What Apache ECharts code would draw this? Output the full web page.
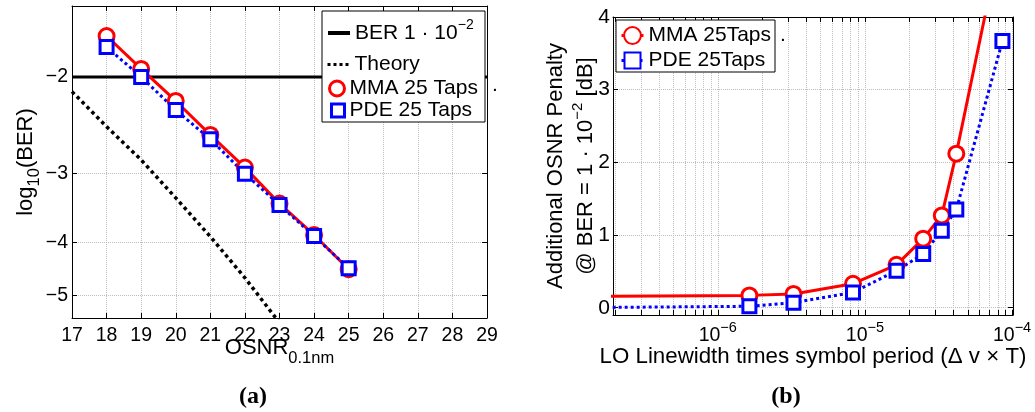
<!DOCTYPE html>
<html>
<head>
<meta charset="utf-8">
<script src="https://cdn.jsdelivr.net/npm/echarts@6/dist/echarts.min.js"></script>
<style>
  html, body { margin: 0; padding: 0; background: #fff; }
  #main { width: 1035px; height: 412px; }
</style>
</head>
<body>
<div id="main"></div>
<script>
// (a) log10(BER) against OSNR
const osnr = [18, 19, 20, 21, 22, 23, 24, 25]
const mmaLogBer = [-1.685, -1.934, -2.212, -2.55, -2.924, -3.40, -3.877, -4.476]
const pdeLogBer = [-1.765, -2.0, -2.297, -2.597, -3.0, -3.42, -3.896, -4.456]
const theoryOsnr = [17, 18, 19, 20, 21, 22, 23]
const theoryLogBer = [-2.127, -2.463, -2.831, -3.32, -3.904, -4.64, -5.6]
const limitOsnr = [17, 29]
const limitLogBer = [-2, -2]
const logBerTicks = [-2, -3, -4, -5]

// (b) OSNR penalty against linewidth times symbol period
const linewidthT = [1e-7, 1.64e-6, 3.27e-6, 8.3e-6, 1.64e-5, 2.49e-5, 3.33e-5, 4.18e-5, 8.6e-5]
const mmaPenalty = [0.155, 0.17, 0.19, 0.33, 0.59, 0.95, 1.27, 2.12, 5.17]
const pdePenalty = [0.0, 0.02, 0.07, 0.21, 0.51, 0.74, 1.06, 1.35, 3.67]
const penaltyTicks = [0, 1, 2, 3, 4]
const decadeTicks = [1e-6, 1e-5, 1e-4]

const FONT = 'Liberation Sans'
const RED = '#ff0000'
const BLUE = '#0000ff'
const zip = (xs, ys) => xs.map((x, i) => [x, ys[i]])

// log grid lines at 1..9 of every decade
const minorTicks = []
for (let e = -7; e <= -5; e++) {
  for (let m = 1; m <= 9; m++) {
    const v = m * Math.pow(10, e)
    if (v >= 1.94e-7) minorTicks.push(v)
  }
}
minorTicks.push(1e-4)

const supStyle = (size, raise) => ({ fontSize: size, fontFamily: FONT, color: '#000', padding: [0, 0, raise, 0] })
const subStyle = (size, drop) => ({ fontSize: size, fontFamily: FONT, color: '#000', padding: [drop, 0, 0, 0] })

const axisBase = {
  nameMoveOverlap: false,
  axisLine: { show: true, onZero: false, lineStyle: { color: '#000', width: 1 } },
  axisTick: { show: true, inside: true, length: 5, lineStyle: { color: '#000', width: 1 } },
  axisLabel: { color: '#000', fontFamily: FONT, fontSize: 19.5 },
  splitLine: { show: true, lineStyle: { color: '#bdbdbd', type: 'dotted', width: 1 } }
}
const mirror = {
  nameMoveOverlap: false,
  axisLine: { show: true, onZero: false, lineStyle: { color: '#000', width: 1 } },
  axisTick: { show: true, inside: true, length: 5, lineStyle: { color: '#000', width: 1 } },
  axisLabel: { show: false },
  splitLine: { show: false }
}

const nameStyle = {
  color: '#000', fontFamily: FONT, fontSize: 22,
  rich: { sub: subStyle(16.5, 22), sup: supStyle(15, 16) }
}

const chart = echarts.init(document.getElementById('main'))

const legendText = { color: '#000', fontFamily: FONT, fontSize: 21, rich: { sup: supStyle(14, 16) } }
const legendBase = {
  orient: 'vertical', padding: 0, itemGap: 0, selectedMode: false, z: 100,
  textStyle: legendText
}

// hollow markers drawn as filled white shapes so the stroke width holds
const ring = color => ({ color: '#fff', borderColor: color, borderWidth: 3 })

const option = {
  animation: false,
  backgroundColor: '#fff',
  grid: [
    { left: 72, top: 6, width: 415, height: 312, containLabel: false, outerBoundsMode: 'none' },
    { left: 613, top: 17, width: 400, height: 298, containLabel: false, outerBoundsMode: 'none' }
  ],
  xAxis: [
    Object.assign({}, axisBase, {
      type: 'value', gridIndex: 0, position: 'bottom', min: 17, max: 29, interval: 1,
      axisLabel: Object.assign({}, axisBase.axisLabel, { margin: 8 }),
      name: 'OSNR{sub|0.1nm}', nameLocation: 'middle', nameGap: 10, nameTextStyle: nameStyle
    }),
    Object.assign({}, mirror, { type: 'value', gridIndex: 0, position: 'top', min: 17, max: 29, interval: 1 }),
    Object.assign({}, axisBase, {
      type: 'log', gridIndex: 1, position: 'bottom', min: 1.94e-7, max: 1.015e-4,
      axisTick: Object.assign({}, axisBase.axisTick, { customValues: minorTicks }),
      axisLabel: Object.assign({}, axisBase.axisLabel, {
        customValues: decadeTicks, margin: 5,
        formatter: v => '10{sup|−' + Math.abs(Math.round(Math.log10(v))) + '}',
        rich: { sup: supStyle(14.5, 17) }
      }),
      name: 'LO Linewidth times symbol period (Δ v × T)', nameLocation: 'middle', nameGap: 31,
      nameTextStyle: Object.assign({}, nameStyle, { fontSize: 22.3 })
    }),
    Object.assign({}, mirror, {
      type: 'log', gridIndex: 1, position: 'top', min: 1.94e-7, max: 1.015e-4,
      axisTick: Object.assign({}, mirror.axisTick, { customValues: minorTicks })
    })
  ],
  yAxis: [
    Object.assign({}, axisBase, {
      type: 'log', gridIndex: 0, position: 'left', inverse: true, min: 1.486, max: 5.49,
      axisTick: Object.assign({}, axisBase.axisTick, { customValues: logBerTicks.map(v => -v) }),
      axisLabel: Object.assign({}, axisBase.axisLabel, {
        customValues: logBerTicks.map(v => -v), margin: 4,
        formatter: v => '−' + Math.round(v)
      }),
      name: 'log{sub|10}(BER)', nameLocation: 'middle', nameRotate: 90, nameGap: 29,
      nameTextStyle: Object.assign({}, nameStyle, { rich: { sub: subStyle(16.5, 17) } })
    }),
    Object.assign({}, mirror, {
      type: 'log', gridIndex: 0, position: 'right', inverse: true, min: 1.486, max: 5.49,
      axisTick: Object.assign({}, mirror.axisTick, { customValues: logBerTicks.map(v => -v) })
    }),
    Object.assign({}, axisBase, {
      type: 'value', gridIndex: 1, position: 'left', min: -0.1, max: 4,
      axisTick: Object.assign({}, axisBase.axisTick, { customValues: penaltyTicks }),
      axisLabel: Object.assign({}, axisBase.axisLabel, { customValues: penaltyTicks, margin: 3, fontSize: 21 }),
      name: 'Additional OSNR Penalty\n@ BER = 1 · 10{sup|−2} [dB]', nameLocation: 'middle', nameRotate: 90,
      nameGap: 12, nameTextStyle: Object.assign({}, nameStyle, { lineHeight: 30 })
    }),
    Object.assign({}, mirror, {
      type: 'value', gridIndex: 1, position: 'right', min: -0.1, max: 4,
      axisTick: Object.assign({}, mirror.axisTick, { customValues: penaltyTicks })
    })
  ],
  legend: [
    Object.assign({}, legendBase, {
      data: [{ name: 'BER', itemStyle: { opacity: 0 }, lineStyle: { color: '#000', width: 4 } }],
      left: 326, top: 18, itemWidth: 22, itemHeight: 14, itemTextGap: 2,
      formatter: () => 'BER 1 · 10{sup|−2}'
    }),
    Object.assign({}, legendBase, {
      data: [{ name: 'Theory', itemStyle: { opacity: 0 }, lineStyle: { color: '#000', width: 3, type: 'dotted' } }],
      left: 326, top: 54, itemWidth: 22, itemHeight: 14, itemTextGap: 2
    }),
    Object.assign({}, legendBase, {
      data: [{ name: 'MMA 25 Taps', icon: 'circle', itemStyle: ring(RED) }],
      left: 328, top: 78, itemWidth: 15, itemHeight: 15, itemTextGap: 6
    }),
    Object.assign({}, legendBase, {
      data: [{ name: 'PDE 25 Taps', icon: 'rect', itemStyle: ring(BLUE) }],
      left: 330, top: 100, itemWidth: 13, itemHeight: 13, itemTextGap: 6
    }),
    Object.assign({}, legendBase, {
      data: [{ name: 'MMA 25Taps', lineStyle: { color: RED, width: 3 } }],
      left: 620, top: 25, itemWidth: 22, itemHeight: 21, itemTextGap: 1
    }),
    Object.assign({}, legendBase, {
      data: [{ name: 'PDE 25Taps', lineStyle: { color: BLUE, width: 3, type: 'dotted' } }],
      left: 620, top: 50, itemWidth: 22, itemHeight: 20, itemTextGap: 1
    })
  ],
  graphic: [
    { type: 'rect', z: 50, shape: { x: 322, y: 11, width: 163, height: 111 }, style: { fill: '#fff', stroke: '#000', lineWidth: 1 } },
    { type: 'rect', z: 50, shape: { x: 616, y: 20, width: 159, height: 52 }, style: { fill: '#fff', stroke: '#000', lineWidth: 1 } },
    { type: 'text', z: 60, style: { text: '.', x: 492, y: 96, font: '21px "Liberation Sans"', fill: '#000', verticalAlign: 'bottom' } },
    { type: 'text', z: 60, style: { text: '.', x: 780, y: 46, font: '21px "Liberation Sans"', fill: '#000', verticalAlign: 'bottom' } },
    { type: 'text', style: { text: '(a)', x: 253, y: 397, font: 'bold 24px "Liberation Serif"', fill: '#000', align: 'center', verticalAlign: 'middle' } },
    { type: 'text', style: { text: '(b)', x: 786, y: 397, font: 'bold 24px "Liberation Serif"', fill: '#000', align: 'center', verticalAlign: 'middle' } }
  ],
  series: [
    {
      name: 'BER', type: 'line', xAxisIndex: 0, yAxisIndex: 0,
      data: zip(limitOsnr, limitLogBer.map(v => -v)), symbol: 'none',
      lineStyle: { color: '#000', width: 3 }, itemStyle: { color: '#000' }
    },
    {
      name: 'Theory', type: 'line', xAxisIndex: 0, yAxisIndex: 0,
      data: zip(theoryOsnr, theoryLogBer.map(v => -v)), symbol: 'none',
      lineStyle: { color: '#000', width: 3.5, type: 'dotted' }, itemStyle: { color: '#000' }
    },
    {
      name: 'MMA 25 Taps', type: 'line', xAxisIndex: 0, yAxisIndex: 0,
      data: zip(osnr, mmaLogBer.map(v => -v)), symbol: 'circle', symbolSize: 15,
      lineStyle: { color: RED, width: 3 }, itemStyle: ring(RED)
    },
    {
      name: 'PDE 25 Taps', type: 'line', xAxisIndex: 0, yAxisIndex: 0,
      data: zip(osnr, pdeLogBer.map(v => -v)), symbol: 'rect', symbolSize: 13,
      lineStyle: { color: BLUE, width: 3, type: 'dotted' }, itemStyle: ring(BLUE)
    },
    {
      name: 'MMA 25Taps', type: 'line', xAxisIndex: 2, yAxisIndex: 2,
      data: zip(linewidthT, mmaPenalty), symbol: 'circle', symbolSize: 15,
      lineStyle: { color: RED, width: 3 }, itemStyle: ring(RED)
    },
    {
      name: 'PDE 25Taps', type: 'line', xAxisIndex: 2, yAxisIndex: 2,
      data: zip(linewidthT, pdePenalty), symbol: 'rect', symbolSize: 13,
      lineStyle: { color: BLUE, width: 3, type: 'dotted' }, itemStyle: ring(BLUE)
    }
  ]
}

chart.setOption(option)
</script>
</body>
</html>
